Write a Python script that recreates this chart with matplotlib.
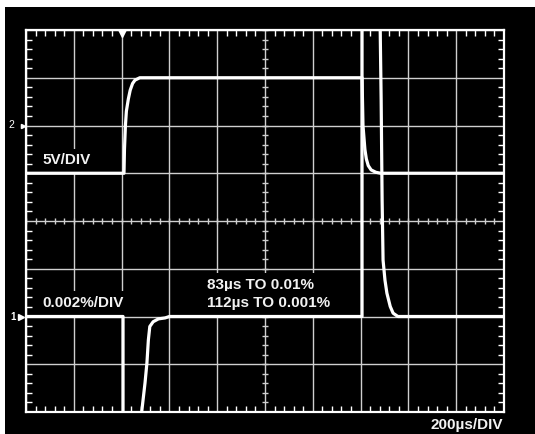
import numpy as np
import matplotlib
matplotlib.use("Agg")
import matplotlib.pyplot as plt
from matplotlib.ticker import MultipleLocator
from matplotlib.patches import Rectangle

# screen is 10 x 8 divisions
# ch2: 5V/DIV step input
ch2_t = [0, 2.05, 2.06, 2.08, 2.10, 2.14, 2.18, 2.23, 2.28, 2.38,
         7.03, 7.04, 7.05, 7.07, 7.09, 7.12, 7.16, 7.22, 7.32, 7.42, 10]
ch2_v = [5, 5, 5.5, 6.0, 6.3, 6.55, 6.74, 6.88, 6.95, 7.0,
         7.0, 6.5, 6.0, 5.75, 5.5, 5.3, 5.16, 5.07, 5.02, 5.0, 5.0]

# ch1: settling error, 0.002%/DIV (goes off screen on the edges)
ch1_t = [0, 2.03, 2.03, 2.40, 2.42, 2.49, 2.53, 2.56, 2.59, 2.66, 2.77, 2.91, 3.0,
         7.03, 7.03, 7.40, 7.41, 7.43, 7.45, 7.47, 7.51, 7.55, 7.62, 7.68, 7.78, 7.96, 10]
ch1_v = [2, 2, -1, -1, 0.0, 0.61, 1.03, 1.51, 1.79, 1.89, 1.95, 1.97, 2.0,
         2.0, 9, 9, 8.0, 6.53, 4.44, 3.18, 2.76, 2.49, 2.21, 2.07, 2.0, 2.0, 2.0]

labels = ["5V/DIV", "0.002%/DIV", "83\u00b5s TO 0.01%", "112\u00b5s TO 0.001%", "200\u00b5s/DIV"]

W, H = 535, 434
fig = plt.figure(figsize=(W / 100, H / 100), dpi=100, facecolor="white")
bg = Rectangle((5 / W, 0), 1 - 5 / W, 1 - 7 / H, transform=fig.transFigure,
               facecolor="black", edgecolor="none", zorder=-1)
fig.add_artist(bg)

ax = fig.add_axes([26 / W, 22 / H, 478 / W, 382 / H])
ax.set_zorder(2)
ax.set_facecolor("black")
ax.set_xlim(0, 10)
ax.set_ylim(0, 8)
ax.set_xticks(range(11))
ax.set_yticks(range(9))
ax.xaxis.set_minor_locator(MultipleLocator(0.2))
ax.yaxis.set_minor_locator(MultipleLocator(0.2))
ax.tick_params(which="major", length=0, labelbottom=False, labelleft=False)
ax.tick_params(which="minor", direction="in", length=4.5, width=1, color="white",
               top=True, right=True, bottom=True, left=True)
ax.set_axisbelow(True)
ax.grid(True, which="major", color="#cfcfcf", lw=1)
for s in ax.spines.values():
    s.set_color("white")
    s.set_linewidth(1.6)

# ticks along the centre lines
mt = np.arange(0, 10.01, 0.2)
mv = np.arange(0, 8.01, 0.2)
ax.plot(mt, np.full_like(mt, 4), ls="none", marker="|", ms=4.5, mew=1, color="#cfcfcf", zorder=1)
ax.plot(np.full_like(mv, 5), mv, ls="none", marker="_", ms=4.5, mew=1, color="#cfcfcf", zorder=1)

# traces
ax.plot(ch2_t, ch2_v, color="white", lw=2.3, zorder=5, solid_joinstyle="round")
ax.plot(ch1_t, ch1_v, color="white", lw=2.3, zorder=5, solid_joinstyle="round")

fnt = dict(family="Liberation Sans", weight="bold", size=11, color="#f2f2f2", va="baseline", zorder=4)
box = dict(boxstyle="square,pad=0.3", facecolor="black", edgecolor="none")
ax.text(0.335, 5.19, labels[0], bbox=box, **fnt)
ax.text(0.335, 2.20, labels[1], bbox=box, **fnt)
ax.text(3.79, 2.58, labels[2], bbox=box, **fnt)
ax.text(3.79, 2.20, labels[3], bbox=box, **fnt)
ax.text(9.98, -0.356, labels[4], ha="right", clip_on=False, **fnt)

# channel markers and trigger point
ax.text(-0.25, 6.0, "2", family="Liberation Sans", size=7.5, color="white",
        ha="right", va="center", clip_on=False)
ax.plot([-0.07], [6.0], marker=">", ms=3, color="white", clip_on=False, zorder=6)
ax.text(-0.22, 2.0, "1", family="Liberation Sans", weight="bold", size=7, color="white",
        ha="right", va="center", clip_on=False)
ax.plot([-0.1], [2.0], marker=">", ms=4, color="white", clip_on=False, zorder=6)
ax.plot([2.0], [7.93], marker="v", ms=6, color="white", zorder=6)

fig.savefig("out.png", dpi=100, facecolor=fig.get_facecolor())
